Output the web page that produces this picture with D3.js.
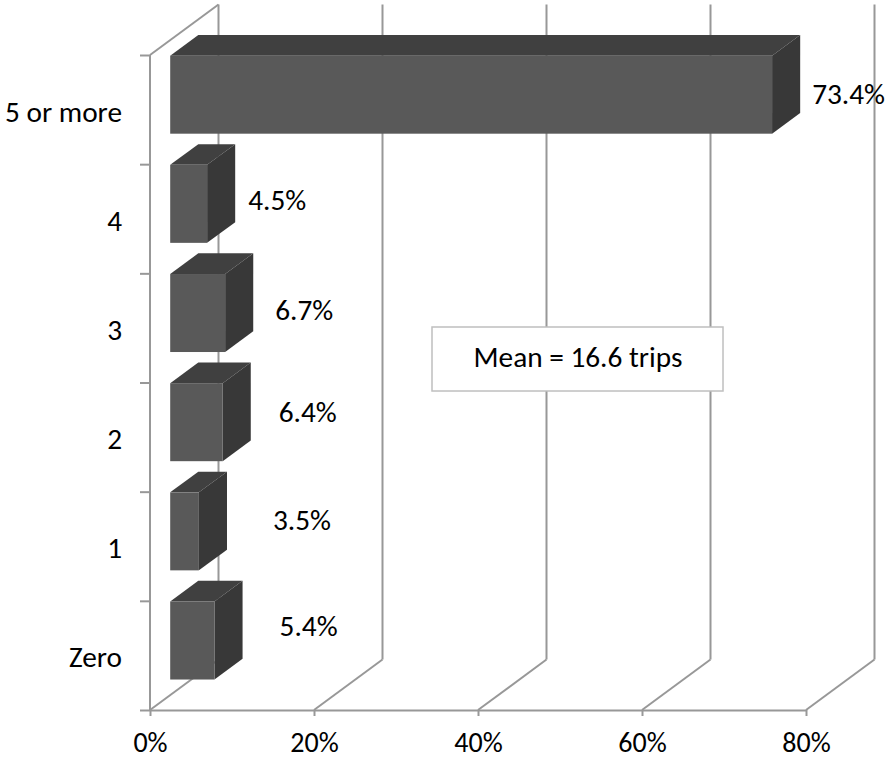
<!DOCTYPE html>
<html>
<head>
<meta charset="utf-8">
<script src="https://cdn.jsdelivr.net/npm/d3@7"></script>
<style>
  html, body { margin: 0; padding: 0; background: #fff; }
  svg { display: block; }
  text { font-family: Carlito, Lato, "Open Sans", sans-serif; fill: #000; }
</style>
</head>
<body>
<svg id="chart" width="892" height="761"></svg>
<script>
// ---- data ----
const categories = ["Zero", "1", "2", "3", "4", "5 or more"];
const values = [5.4, 3.5, 6.4, 6.7, 4.5, 73.4];
const xTicks = [0, 20, 40, 60, 80];
const meanText = "Mean = 16.6 trips";
// manual data-label nudges [dx from bar back edge, dy from bar face centre]
const labelNudge = [[37, -15], [46, -11], [28, -10], [22, -3], [13, -4], [12, -1]];

(function () {
// ---- layout ----
const pLeft = 150, pRight = 806, pTop = 55, pBottom = 710;
const DX = 68.5, DY = -50.5;      // floor depth projection
const z0 = 0.295, z1 = 0.705;     // bar depth extent
const FS = 29.3;

const svg = d3.select("#chart");

const x = d3.scaleLinear().domain([0, 80]).range([pLeft, pRight]);
const y = d3.scaleBand().domain(categories.slice().reverse())
  .range([pTop, pBottom]).paddingInner(0.2855).paddingOuter(0.2855 / 2);
const yEdge = d3.scaleLinear().domain([0, categories.length]).range([pBottom, pTop]);

const gridColor = "#989898";

// ---- walls / gridlines ----
const grid = svg.append("g").attr("stroke", gridColor).attr("stroke-width", 2).attr("fill", "none");
xTicks.forEach(t => {
  const xf = x(t), xb = x(t) + DX;
  grid.append("line").attr("x1", xb).attr("y1", pTop + DY).attr("x2", xb).attr("y2", pBottom + DY);
  grid.append("line").attr("x1", xf).attr("y1", pBottom).attr("x2", xb).attr("y2", pBottom + DY);
});
grid.append("line").attr("x1", pLeft).attr("y1", pTop).attr("x2", pLeft).attr("y2", pBottom);
grid.append("line").attr("x1", pLeft).attr("y1", pTop).attr("x2", pLeft + DX).attr("y2", pTop + DY);

// ---- axes ----
const xAxis = svg.append("g").attr("transform", `translate(0,${pBottom})`)
  .call(d3.axisBottom(x).tickValues(xTicks).tickFormat(d => d + "%").tickSizeInner(6).tickSizeOuter(0));
xAxis.select(".domain").attr("stroke", gridColor).attr("stroke-width", 2);
xAxis.selectAll(".tick line").attr("stroke", gridColor).attr("stroke-width", 2);
xAxis.selectAll(".tick text").attr("font-size", 28).attr("font-family", "Carlito, Lato, sans-serif")
  .attr("dy", null).attr("y", 42).attr("fill", "#000");

const yAxis = svg.append("g").attr("transform", `translate(${pLeft},0)`)
  .call(d3.axisLeft(yEdge).ticks(categories.length).tickFormat("").tickSizeInner(10).tickSizeOuter(0));
yAxis.select(".domain").remove();
yAxis.selectAll(".tick line").attr("stroke", gridColor).attr("stroke-width", 2);

// category labels
svg.append("g").selectAll("text").data(categories).join("text")
  .attr("x", 122)
  .attr("y", d => y(d) + y.bandwidth() / 2 + 12)
  .attr("text-anchor", "end")
  .attr("font-size", FS)
  .text(d => d);

// ---- bars ----
const bdx = DX * (z1 - z0), bdy = DY * (z1 - z0);
const bars = svg.append("g");
categories.forEach((c, i) => {
  const v = values[i];
  const xf0 = x(0) + DX * z0, xf1 = x(v) + DX * z0;
  const yf = y(c) + DY * z0, h = y.bandwidth();
  const g = bars.append("g");
  g.append("polygon").attr("fill", "#404040")
    .attr("points", [[xf0, yf], [xf1, yf], [xf1 + bdx, yf + bdy], [xf0 + bdx, yf + bdy]].join(" "));
  g.append("polygon").attr("fill", "#383838")
    .attr("points", [[xf1, yf], [xf1 + bdx, yf + bdy], [xf1 + bdx, yf + bdy + h], [xf1, yf + h]].join(" "));
  g.append("rect").attr("fill", "#595959")
    .attr("x", xf0).attr("y", yf).attr("width", xf1 - xf0).attr("height", h);

  svg.append("text")
    .attr("x", xf1 + bdx + labelNudge[i][0])
    .attr("y", yf + h / 2 + labelNudge[i][1] + 10)
    .attr("font-size", FS)
    .text(v.toFixed(1) + "%");
});

// ---- mean box ----
const box = svg.append("g");
box.append("rect").attr("x", 432).attr("y", 327).attr("width", 291).attr("height", 64)
  .attr("fill", "#fff").attr("stroke", "#bfbfbf").attr("stroke-width", 1.5);
box.append("text").attr("x", 578).attr("y", 367).attr("text-anchor", "middle")
  .attr("font-size", FS).text(meanText);
})();
</script>
</body>
</html>
